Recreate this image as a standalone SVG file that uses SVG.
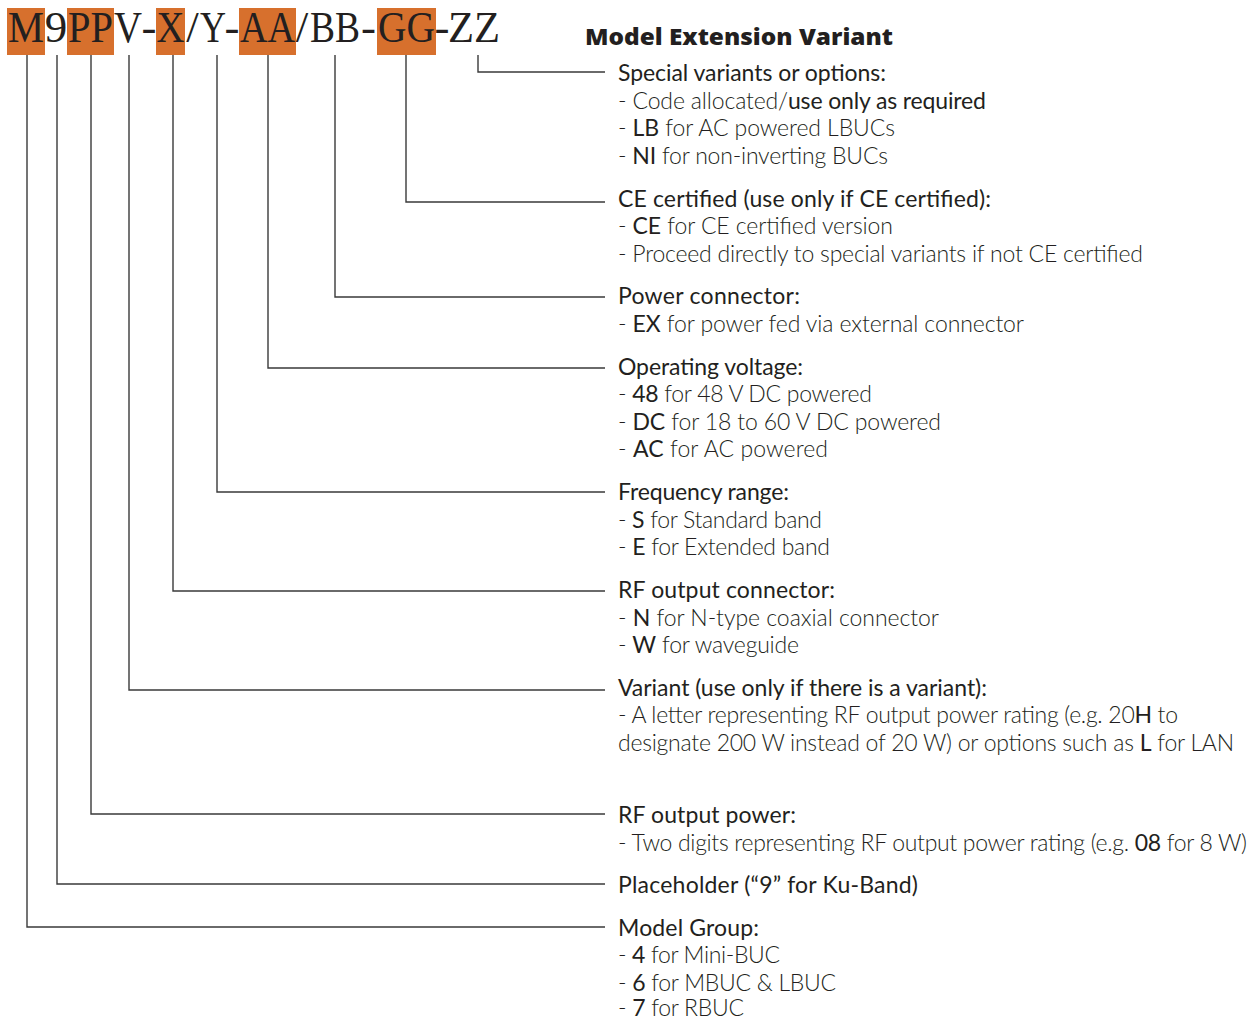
<svg xmlns="http://www.w3.org/2000/svg" width="1254" height="1020" viewBox="0 0 1254 1020">
<style>
.code{font-family:"Liberation Serif",serif;font-size:45px;fill:#231f20;text-anchor:middle}
.box{fill:#d7702d}
.t{font-family:Lato,"Liberation Sans",sans-serif;font-size:23px;fill:#231f20}
.h{font-weight:400}
.d{font-weight:300}
.b{font-weight:400}
.title{font-family:"Open Sans","Liberation Sans",sans-serif;font-size:22px;font-weight:800;fill:#231f20}
.ln{fill:none;stroke:#3a3a3a;stroke-width:1.4}
</style>
<rect width="1254" height="1020" fill="#fff"/>
<g id="code">
<rect class="box" x="7" y="8" width="38" height="47"/>
<rect class="box" x="67" y="8" width="47" height="47"/>
<rect class="box" x="156" y="8" width="29" height="47"/>
<rect class="box" x="239" y="8" width="57" height="47"/>
<rect class="box" x="377" y="8" width="59" height="47"/>
<text class="code" y="42"><tspan x="26" textLength="36" lengthAdjust="spacingAndGlyphs">M</tspan><tspan x="56">9</tspan><tspan x="90.5" textLength="45" lengthAdjust="spacingAndGlyphs">PP</tspan><tspan x="128" textLength="28" lengthAdjust="spacingAndGlyphs">V</tspan><tspan x="149">-</tspan><tspan x="170.5" textLength="28" lengthAdjust="spacingAndGlyphs">X</tspan><tspan x="192.5">/</tspan><tspan x="213" textLength="26" lengthAdjust="spacingAndGlyphs">Y</tspan><tspan x="232">-</tspan><tspan x="267.5" textLength="55" lengthAdjust="spacingAndGlyphs">AA</tspan><tspan x="302">/</tspan><tspan x="335" textLength="50" lengthAdjust="spacingAndGlyphs">BB</tspan><tspan x="368.5">-</tspan><tspan x="406.5" textLength="57" lengthAdjust="spacingAndGlyphs">GG</tspan><tspan x="442">-</tspan><tspan x="474" textLength="52" lengthAdjust="spacingAndGlyphs">ZZ</tspan></text>
</g>
<g id="title"><text class="title" x="585" y="45" textLength="308" lengthAdjust="spacingAndGlyphs">Model Extension Variant</text></g>
<g id="connectors">
<polyline class="ln" points="478,55 478,72 605,72"/>
<polyline class="ln" points="406,55 406,202 605,202"/>
<polyline class="ln" points="335,55 335,297 605,297"/>
<polyline class="ln" points="268,55 268,368 605,368"/>
<polyline class="ln" points="217,55 217,492 605,492"/>
<polyline class="ln" points="173,55 173,591 605,591"/>
<polyline class="ln" points="129,55 129,690 605,690"/>
<polyline class="ln" points="91,55 91,814 605,814"/>
<polyline class="ln" points="57,55 57,884 605,884"/>
<polyline class="ln" points="27,55 27,927 605,927"/>
</g>
<g id="special-variants">
<text class="t h" x="618" y="81" textLength="268">Special variants or options:</text>
<text class="t d" x="618" y="109" textLength="368">- Code allocated/<tspan class="b">use only as required</tspan></text>
<text class="t d" x="618" y="136" textLength="277">- <tspan class="b">LB</tspan> for AC powered LBUCs</text>
<text class="t d" x="618" y="164" textLength="270">- <tspan class="b">NI</tspan> for non-inverting BUCs</text>
</g>
<g id="ce-certified">
<text class="t h" x="618" y="207" textLength="373">CE certified (use only if CE certified):</text>
<text class="t d" x="618" y="234" textLength="275">- <tspan class="b">CE</tspan> for CE certified version</text>
<text class="t d" x="618" y="262" textLength="525">- Proceed directly to special variants if not CE certified</text>
</g>
<g id="power-connector">
<text class="t h" x="618" y="304" textLength="182">Power connector:</text>
<text class="t d" x="618" y="332" textLength="406">- <tspan class="b">EX</tspan> for power fed via external connector</text>
</g>
<g id="operating-voltage">
<text class="t h" x="618" y="375" textLength="185">Operating voltage:</text>
<text class="t d" x="618" y="402" textLength="254">- <tspan class="b">48</tspan> for 48 V DC powered</text>
<text class="t d" x="618" y="430" textLength="323">- <tspan class="b">DC</tspan> for 18 to 60 V DC powered</text>
<text class="t d" x="618" y="457" textLength="210">- <tspan class="b">AC</tspan> for AC powered</text>
</g>
<g id="frequency-range">
<text class="t h" x="618" y="500" textLength="171">Frequency range:</text>
<text class="t d" x="618" y="528" textLength="204">- <tspan class="b">S</tspan> for Standard band</text>
<text class="t d" x="618" y="555" textLength="212">- <tspan class="b">E</tspan> for Extended band</text>
</g>
<g id="rf-output-connector">
<text class="t h" x="618" y="598" textLength="217">RF output connector:</text>
<text class="t d" x="618" y="626" textLength="321">- <tspan class="b">N</tspan> for N-type coaxial connector</text>
<text class="t d" x="618" y="653" textLength="181">- <tspan class="b">W</tspan> for waveguide</text>
</g>
<g id="variant">
<text class="t h" x="618" y="696" textLength="369">Variant (use only if there is a variant):</text>
<text class="t d" x="618" y="723" textLength="560">- A letter representing RF output power rating (e.g. 20<tspan class="b">H</tspan> to</text>
<text class="t d" x="618" y="751" textLength="616">designate 200 W instead of 20 W) or options such as <tspan class="b">L</tspan> for LAN</text>
</g>
<g id="rf-output-power">
<text class="t h" x="618" y="823" textLength="178">RF output power:</text>
<text class="t d" x="618" y="851" textLength="629">- Two digits representing RF output power rating (e.g. <tspan class="b">08</tspan> for 8 W)</text>
</g>
<g id="placeholder">
<text class="t h" x="618" y="893" textLength="300">Placeholder (“9” for Ku-Band)</text>
</g>
<g id="model-group">
<text class="t h" x="618" y="936" textLength="141">Model Group:</text>
<text class="t d" x="618" y="963" textLength="162">- <tspan class="b">4</tspan> for Mini-BUC</text>
<text class="t d" x="618" y="991" textLength="218">- <tspan class="b">6</tspan> for MBUC &amp; LBUC</text>
<text class="t d" x="618" y="1016" textLength="126">- <tspan class="b">7</tspan> for RBUC</text>
</g>
</svg>
